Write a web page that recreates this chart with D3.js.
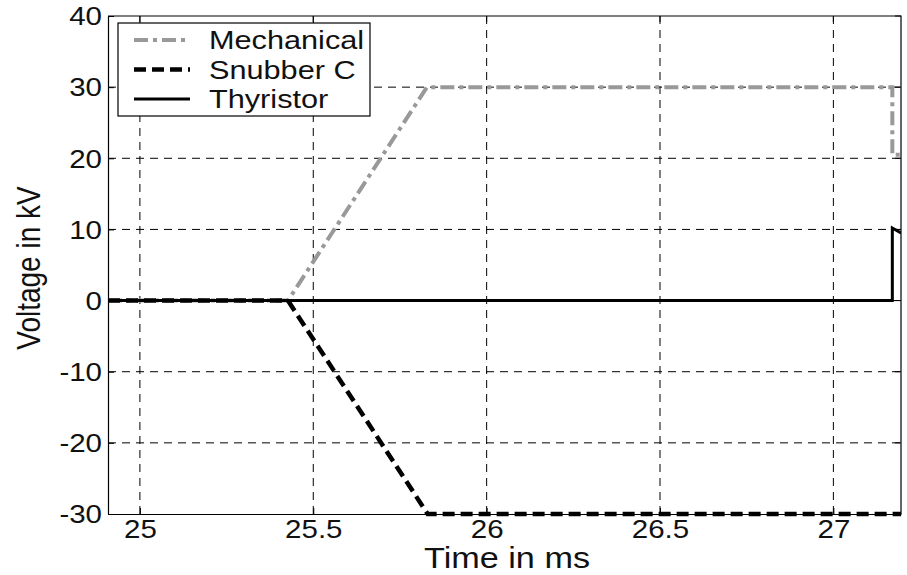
<!DOCTYPE html>
<html>
<head>
<meta charset="utf-8">
<script src="https://cdn.jsdelivr.net/npm/d3@7"></script>
<style>
  body { margin: 0; background: #fff; }
  svg { display: block; font-family: "Liberation Sans", Arial, sans-serif; }
</style>
</head>
<body>
<svg id="chart" width="907" height="575"></svg>
<script>
// Voltage waveforms (time in ms, voltage in kV)
const mechT = [24.908, 25.427, 25.828, 27.17, 27.17, 27.195];
const mechV = [0, 0, 30, 30, 20.5, 20.5];
const snubT = [24.908, 25.427, 25.83, 27.195];
const snubV = [0, 0, -30, -30];
const thyrT = [24.908, 27.17, 27.17, 27.195];
const thyrV = [0, 0, 10.2, 9.5];

const xTicks = [25, 25.5, 26, 26.5, 27];
const yTicks = [-30, -20, -10, 0, 10, 20, 30, 40];
const seriesNames = ["Mechanical", "Snubber C", "Thyristor"];

const W = 907, H = 575;
const margin = { left: 108, right: 6, top: 16, bottom: 61 };
const SX = 1.18; // horizontal text widening
const svg = d3.select("#chart");

const x = d3.scaleLinear().domain([24.908, 27.195]).range([margin.left, W - margin.right]);
const y = d3.scaleLinear().domain([-30, 40]).range([H - margin.bottom, margin.top]);

const x0 = x.range()[0], x1 = x.range()[1];
const y0 = y.range()[1], y1 = y.range()[0];

// grid
const grid = svg.append("g").attr("stroke", "#000").attr("stroke-width", 1)
  .attr("stroke-dasharray", "8,6");
grid.selectAll(".gx").data(xTicks).join("line")
  .attr("x1", d => x(d)).attr("x2", d => x(d))
  .attr("y1", y0).attr("y2", y1);
grid.selectAll(".gy").data(yTicks.filter(d => d > -30 && d < 40)).join("line")
  .attr("x1", x0).attr("x2", x1)
  .attr("y1", d => y(d)).attr("y2", d => y(d));

// axes
const fmt = d => String(d);
const xAxis = d3.axisBottom(x).tickValues(xTicks).tickSizeInner(-6).tickSizeOuter(0).tickFormat(fmt);
const yAxis = d3.axisLeft(y).tickValues(yTicks).tickSizeInner(-6).tickSizeOuter(0).tickFormat(fmt);

const gx = svg.append("g").attr("transform", `translate(0,${y1})`).call(xAxis);
const gy = svg.append("g").attr("transform", `translate(${x0},0)`).call(yAxis);
[gx, gy].forEach(g => {
  g.select(".domain").attr("stroke", "#000").attr("stroke-width", 1.2);
  g.selectAll(".tick text").attr("font-size", 25).attr("fill", "#111")
    .attr("font-family", "Liberation Sans, Arial, sans-serif");
});
gx.selectAll(".tick text").attr("x", 0).attr("y", 0).attr("dy", "0.71em")
  .attr("transform", `translate(0,6) scale(${SX},1)`);
gy.selectAll(".tick text").attr("x", 0).attr("dy", "0.35em")
  .attr("transform", `translate(-6,0) scale(${SX},1)`);

// top/right frame with ticks
svg.append("path").attr("fill", "none").attr("stroke", "#000").attr("stroke-width", 1.2)
  .attr("d", `M${x0},${y0}H${x1}V${y1}`);
svg.append("g").selectAll("line").data(xTicks).join("line")
  .attr("x1", d => x(d)).attr("x2", d => x(d)).attr("y1", y0).attr("y2", y0 + 6)
  .attr("stroke", "#000");
svg.append("g").selectAll("line").data(yTicks).join("line")
  .attr("x1", x1).attr("x2", x1 - 6).attr("y1", d => y(d)).attr("y2", d => y(d))
  .attr("stroke", "#000");

// series
const line = d3.line().x(d => x(d[0])).y(d => y(d[1]));
const styles = [
  { t: mechT, v: mechV, color: "#999", width: 4, dash: "14,5,4,5" },
  { t: snubT, v: snubV, color: "#000", width: 4.5, dash: "12,6" },
  { t: thyrT, v: thyrV, color: "#000", width: 3, dash: null }
];
svg.append("clipPath").attr("id", "plot").append("rect")
  .attr("x", x0).attr("y", y0 - 3).attr("width", x1 - x0).attr("height", y1 - y0 + 6);
styles.forEach(s => {
  svg.append("path")
    .datum(s.t.map((t, i) => [t, s.v[i]]))
    .attr("clip-path", "url(#plot)")
    .attr("fill", "none").attr("stroke", s.color).attr("stroke-width", s.width)
    .attr("stroke-dasharray", s.dash)
    .attr("stroke-linejoin", "miter")
    .attr("d", line);
});

// legend
const lg = svg.append("g");
lg.append("rect").attr("x", 118).attr("y", 23).attr("width", 252).attr("height", 93)
  .attr("fill", "#fff").attr("stroke", "#000").attr("stroke-width", 1.2);
seriesNames.forEach((name, i) => {
  const yy = 40 + i * 29.5;
  lg.append("line").attr("x1", 134).attr("x2", 190).attr("y1", yy).attr("y2", yy)
    .attr("stroke", styles[i].color).attr("stroke-width", styles[i].width)
    .attr("stroke-dasharray", styles[i].dash);
  lg.append("text").attr("transform", `translate(209,${yy}) scale(${SX},1)`)
    .attr("dy", "0.35em").attr("font-size", 26).attr("fill", "#111").text(name);
});

// axis titles
svg.append("text").attr("transform", `translate(507,568) scale(${SX},1)`)
  .attr("text-anchor", "middle").attr("font-size", 29).attr("fill", "#111")
  .text("Time in ms");
svg.append("text").attr("transform", `translate(40,268) scale(${SX},1) rotate(-90)`)
  .attr("text-anchor", "middle").attr("font-size", 28).attr("fill", "#111")
  .text("Voltage in kV");
</script>
</body>
</html>
